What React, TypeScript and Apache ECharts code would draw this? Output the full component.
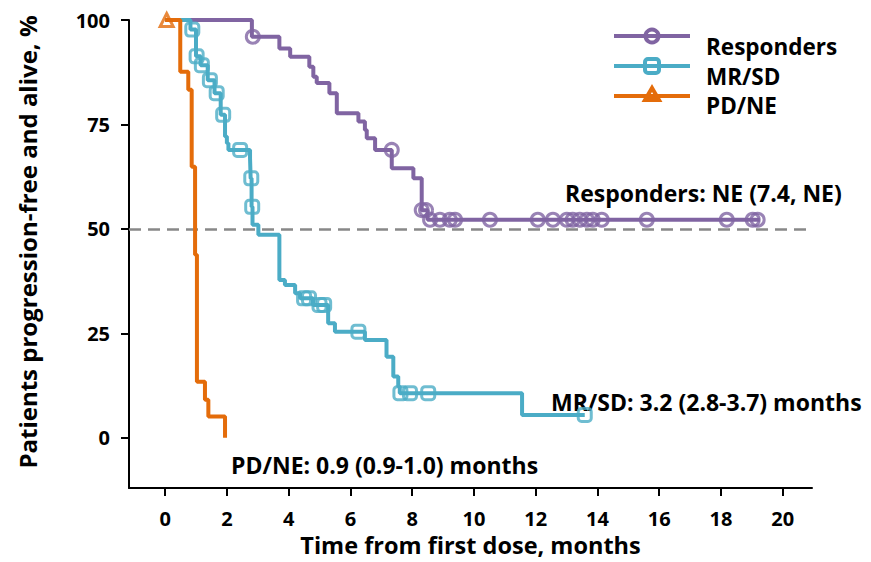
import React, { useEffect, useRef } from "react";
import * as echarts from "echarts";

// ---- Data ----
// Kaplan–Meier steps: time (months) of each drop and survival (%) after it
const respTimes = [0, 2.81, 3.70, 4.05, 4.67, 4.80, 4.91, 5.32, 5.56, 6.26, 6.47, 6.53, 6.80, 7.34, 8.04, 8.31, 8.50, 19.26];
const respSurv = [100, 96.0, 93.2, 91.2, 88.8, 86.4, 84.9, 82.5, 77.7, 75.7, 73.7, 71.7, 68.9, 64.5, 62.1, 54.5, 52.2, 52.2];
const respCensT = [2.84, 7.34, 8.31, 8.45, 8.58, 8.90, 9.22, 9.39, 10.52, 12.07, 12.56, 13.01, 13.20, 13.43, 13.66, 13.85, 14.14, 15.60, 18.19, 19.03, 19.19];
const respCensS = [96.0, 68.9, 54.5, 54.5, 52.2, 52.2, 52.2, 52.2, 52.2, 52.2, 52.2, 52.2, 52.2, 52.2, 52.2, 52.2, 52.2, 52.2, 52.2, 52.2, 52.2];

const mrTimes = [0, 0.82, 1.0, 1.15, 1.38, 1.60, 1.80, 1.94, 2.00, 2.05, 2.75, 2.77, 2.80, 2.83, 3.02, 3.70, 3.88, 4.21, 4.37, 4.79, 5.28, 5.50, 6.47, 7.17, 7.39, 7.55, 7.60, 11.56, 13.59];
const mrSurv = [100, 97.7, 91.3, 89.2, 85.6, 82.5, 77.3, 72.1, 70.5, 68.9, 66.9, 62.1, 55.3, 51.0, 48.6, 37.8, 36.6, 34.6, 33.4, 31.8, 27.4, 25.4, 23.4, 19.4, 14.7, 12.3, 10.7, 5.5, 5.5];
const mrCensT = [0.88, 1.02, 1.19, 1.45, 1.67, 1.88, 2.43, 2.79, 2.82, 4.50, 4.66, 5.00, 5.15, 6.26, 7.62, 7.93, 8.52, 13.59];
const mrCensS = [97.7, 91.3, 89.2, 85.6, 82.5, 77.3, 68.9, 62.1, 55.3, 33.4, 33.4, 31.8, 31.8, 25.4, 10.7, 10.7, 10.7, 5.5];

const pdTimes = [0, 0.49, 0.75, 0.86, 0.97, 1.03, 1.29, 1.40, 1.94];
const pdSurv = [100, 87.6, 83.3, 64.9, 43.8, 13.4, 9.1, 5.1, 0];
const pdCensT = [0.05];
const pdCensS = [100];

const xTicks = [0, 2, 4, 6, 8, 10, 12, 14, 16, 18, 20];
const yTicks = [0, 25, 50, 75, 100];
const medianLevel = 50;

const seriesNames = ["Responders", "MR/SD", "PD/NE"];
const annotations = [
  "Responders: NE (7.4, NE)",
  "MR/SD: 3.2 (2.8-3.7) months",
  "PD/NE: 0.9 (0.9-1.0) months",
];

const PURPLE = "#8064A2";
const CYAN = "#4BACC6";
const ORANGE = "#E46C0A";
const FONT = "Open Sans";

const zip = (a: number[], b: number[]) => a.map((v, i) => [v, b[i]]);

export default function App() {
  const ref = useRef<HTMLDivElement>(null);
  useEffect(() => {
    if (!ref.current) return;
    const chart = echarts.init(ref.current, null, { renderer: "svg" });
    const lineSeries = (name: string, t: number[], s: number[], color: string) => ({
      name,
      type: "line",
      step: "end",
      data: zip(t, s),
      showSymbol: false,
      clip: false,
      lineStyle: { color, width: 4 },
      itemStyle: { color },
      z: 3,
    });
    const censSeries = (name: string, t: number[], s: number[], color: string, symbol: string) => ({
      name,
      type: "scatter",
      data: zip(t, s),
      symbol,
      symbolSize: 13,
      clip: false,
      itemStyle: { color: "rgba(255,255,255,0)", borderColor: color, borderWidth: 3 },
      z: 4,
    });
    const textStyle = { fontFamily: FONT, fontWeight: "bold", color: "#000" };
    const legendY = [36, 66, 96];
    const legendTextY = [46, 76, 105];
    const colors = [PURPLE, CYAN, ORANGE];
    const legendGraphics: any[] = [];
    colors.forEach((c, i) => {
      legendGraphics.push({
        type: "line",
        shape: { x1: 614, y1: legendY[i], x2: 690, y2: legendY[i] },
        style: { stroke: c, lineWidth: 4 },
      });
      legendGraphics.push({
        type: "text",
        style: { ...textStyle, text: seriesNames[i], x: 706, y: legendTextY[i], fontSize: 22.5, verticalAlign: "middle", fill: "#000" },
      });
    });
    legendGraphics.push({ type: "circle", shape: { cx: 652, cy: legendY[0], r: 6.5 }, style: { fill: "rgba(255,255,255,0)", stroke: PURPLE, lineWidth: 4 } });
    legendGraphics.push({ type: "rect", shape: { x: 645, y: legendY[1] - 7, width: 14, height: 14, r: 3 }, style: { fill: "rgba(255,255,255,0)", stroke: CYAN, lineWidth: 4 } });
    legendGraphics.push({ type: "polygon", shape: { points: [[652, legendY[2] - 8], [645, legendY[2] + 4], [659, legendY[2] + 4]] }, style: { fill: "rgba(255,255,255,0)", stroke: ORANGE, lineWidth: 4 } });

    const annotationGraphics = [
      { type: "text", style: { ...textStyle, fill: "#000", text: annotations[0], x: 565, y: 193, fontSize: 23, verticalAlign: "middle" } },
      { type: "text", style: { ...textStyle, fill: "#000", text: annotations[1], x: 551, y: 402, fontSize: 23, verticalAlign: "middle" } },
      { type: "text", style: { ...textStyle, fill: "#000", text: annotations[2], x: 231, y: 465, fontSize: 23, verticalAlign: "middle" } },
    ];

    chart.setOption({
      animation: false,
      backgroundColor: "#fff",
      grid: { left: 129, right: 59, top: 20, bottom: 74, containLabel: false, outerBoundsMode: "none" },
      xAxis: {
        type: "value",
        min: -1.17,
        max: 20.95,
        axisLine: { show: true, onZero: false, lineStyle: { color: "#000", width: 2 } },
        axisTick: { show: true, customValues: xTicks, length: 8, lineStyle: { color: "#000", width: 2 } },
        axisLabel: { customValues: xTicks, margin: 20, fontSize: 20, ...textStyle },
        splitLine: { show: false },
        name: "Time from first dose, months",
        nameLocation: "middle",
        nameGap: 43,
        nameTextStyle: { fontSize: 23.5, lineHeight: 24, ...textStyle },
      },
      yAxis: {
        type: "value",
        min: -12,
        max: 100,
        axisLine: { show: true, onZero: false, lineStyle: { color: "#000", width: 2 } },
        axisTick: { show: true, customValues: yTicks, length: 8, lineStyle: { color: "#000", width: 2 } },
        axisLabel: { customValues: yTicks, margin: 19, fontSize: 20, ...textStyle },
        splitLine: { show: false },
        name: "Patients progression-free and alive, %",
        nameLocation: "middle",
        nameGap: 90,
        nameTextStyle: { fontSize: 24, padding: [0, 0, 0, 24], ...textStyle },
      },
      series: [
        {
          ...lineSeries(seriesNames[0], respTimes, respSurv, PURPLE),
          markLine: {
            silent: true,
            symbol: "none",
            label: { show: false },
            lineStyle: { color: "#888", width: 2.5, type: [12, 7] },
            data: [{ yAxis: medianLevel }],
            z: 1,
          },
        },
        lineSeries(seriesNames[1], mrTimes, mrSurv, CYAN),
        lineSeries(seriesNames[2], pdTimes, pdSurv, ORANGE),
        censSeries("Responders censored", respCensT, respCensS, PURPLE, "circle"),
        censSeries("MR/SD censored", mrCensT, mrCensS, CYAN, "roundRect"),
        censSeries("PD/NE censored", pdCensT, pdCensS, ORANGE, "triangle"),
      ],
      graphic: [...legendGraphics, ...annotationGraphics],
    });
    return () => chart.dispose();
  }, []);
  return <div ref={ref} style={{ position: "absolute", left: 0, top: 0, width: 871, height: 562 }} />;
}
